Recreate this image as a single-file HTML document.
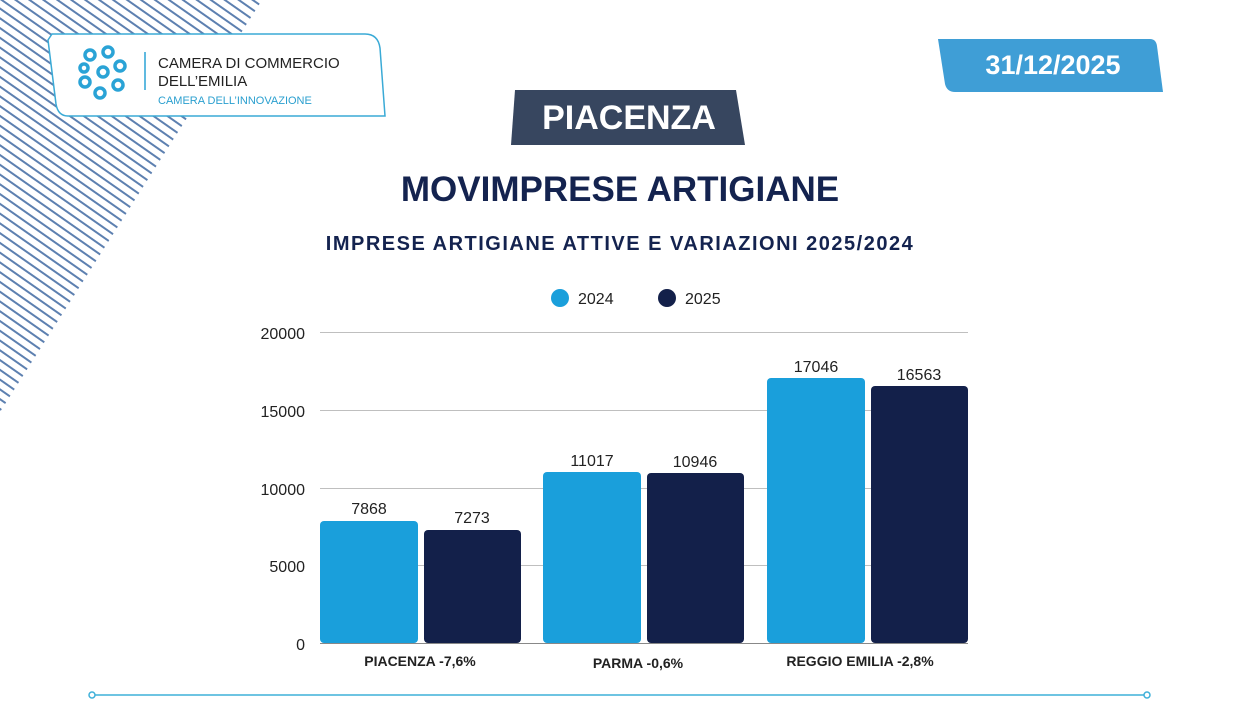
<!DOCTYPE html>
<html><head><meta charset="utf-8"><style>
body{margin:0;width:1240px;height:705px;background:#fff;position:relative;overflow:hidden;font-family:"Liberation Sans",sans-serif}
.a{position:absolute}
</style></head><body>
<svg class="a" style="left:0;top:0" width="1240" height="705">
<defs>
<pattern id="st" patternUnits="userSpaceOnUse" width="8" height="8" patternTransform="rotate(-55)">
<rect width="8" height="8" fill="#fff"/><rect width="2" height="8" fill="#5d80b0"/>
</pattern>
</defs>
<polygon points="0,0 262,0 0,412" fill="url(#st)"/>
<path d="M52,34 L365,34 Q378,34 380,48 L385,116 L68,116 Q58,116 56,104 L48,40 Z" fill="#fff" stroke="#3aaad6" stroke-width="1.5"/>
<g fill="none" stroke="#2aa3d6" stroke-width="3.5">
<circle cx="90" cy="55" r="5"/><circle cx="108" cy="52" r="5"/><circle cx="120" cy="66" r="5"/>
<circle cx="118" cy="85" r="5"/><circle cx="100" cy="93" r="5"/><circle cx="85" cy="82" r="5"/>
<circle cx="84" cy="68" r="4"/><circle cx="103" cy="72" r="5"/>
</g>
<line x1="145" y1="52" x2="145" y2="90" stroke="#2aa3d6" stroke-width="1.5"/>
<text x="158" y="68" font-size="15" fill="#222">CAMERA DI COMMERCIO</text>
<text x="158" y="86" font-size="15" fill="#222">DELL’EMILIA</text>
<text x="158" y="104" font-size="11" fill="#2a9fcf">CAMERA DELL’INNOVAZIONE</text>
<path d="M938,39 L1150,39 Q1156,39 1157,46 L1163,92 L955,92 Q947,92 945,84 Z" fill="#3f9ed6"/>
<text x="1053" y="74" font-size="27" font-weight="bold" fill="#fff" text-anchor="middle">31/12/2025</text>
<path d="M515,90 L736,90 L745,145 L511,145 Z" fill="#37465f"/>
<text x="629" y="129" font-size="34" font-weight="bold" fill="#fff" text-anchor="middle">PIACENZA</text>
<text x="620" y="201" font-size="35" font-weight="bold" fill="#14234f" text-anchor="middle">MOVIMPRESE ARTIGIANE</text>
<text x="620" y="250" font-size="20" font-weight="bold" fill="#14234f" text-anchor="middle" letter-spacing="1.5">IMPRESE ARTIGIANE ATTIVE E VARIAZIONI 2025/2024</text>
<circle cx="560" cy="298" r="9" fill="#1a9fdb"/><text x="578" y="304" font-size="16" fill="#222">2024</text>
<circle cx="667" cy="298" r="9" fill="#13204a"/><text x="685" y="304" font-size="16" fill="#222">2025</text>
<g stroke="#bfbfbf" stroke-width="1">
<line x1="320" y1="332.5" x2="968" y2="332.5"/><line x1="320" y1="410.5" x2="968" y2="410.5"/>
<line x1="320" y1="488.5" x2="968" y2="488.5"/><line x1="320" y1="565.5" x2="968" y2="565.5"/>
</g>
<g font-size="16" fill="#222" text-anchor="end">
<text x="305" y="339">20000</text><text x="305" y="417">15000</text><text x="305" y="495">10000</text>
<text x="305" y="572">5000</text><text x="305" y="650">0</text>
</g>
<g fill="#1a9fdb">
<rect x="320" y="521" width="98" height="122" rx="4"/>
<rect x="543" y="472" width="98" height="171" rx="4"/>
<rect x="767" y="378" width="98" height="265" rx="4"/>
</g>
<g fill="#13204a">
<rect x="424" y="530" width="97" height="113" rx="4"/>
<rect x="647" y="473" width="97" height="170" rx="4"/>
<rect x="871" y="386" width="97" height="257" rx="4"/>
</g>
<line x1="320" y1="643.5" x2="968" y2="643.5" stroke="#888"/>
<g font-size="16" fill="#222" text-anchor="middle">
<text x="369" y="514">7868</text><text x="472" y="523">7273</text>
<text x="592" y="466">11017</text><text x="695" y="467">10946</text>
<text x="816" y="372">17046</text><text x="919" y="380">16563</text>
</g>
<g font-size="14" font-weight="bold" fill="#222" text-anchor="middle">
<text x="420" y="666">PIACENZA -7,6%</text><text x="638" y="668">PARMA -0,6%</text><text x="860" y="666">REGGIO EMILIA -2,8%</text>
</g>
<line x1="92" y1="695" x2="1147" y2="695" stroke="#3fb0d9" stroke-width="1.5"/>
<circle cx="92" cy="695" r="3" fill="#fff" stroke="#3fb0d9" stroke-width="1.5"/>
<circle cx="1147" cy="695" r="3" fill="#fff" stroke="#3fb0d9" stroke-width="1.5"/>
</svg>
</body></html>
